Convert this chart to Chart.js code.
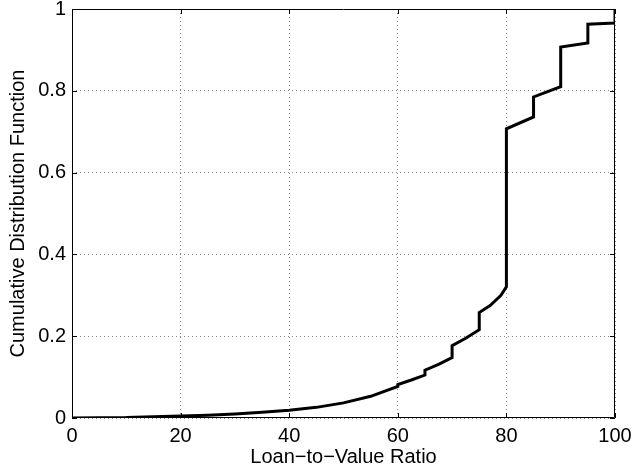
<!DOCTYPE html>
<html>
<head>
<meta charset="utf-8">
<script src="https://cdn.jsdelivr.net/npm/chart.js@4/dist/chart.umd.min.js"></script>
<style>
html,body{margin:0;padding:0;background:#fff;}
#wrap{width:633px;height:467px;position:relative;}
</style>
</head>
<body>
<div id="wrap"><canvas id="c" width="633" height="467"></canvas></div>
<script>
// Loan-to-Value ratio (x) and cumulative distribution (y); repeated x = step jump
const ltv = [0, 10, 20, 25, 30, 35, 40, 45, 50, 55, 60, 60, 62.5, 65, 65, 67.5, 70, 70, 72.5, 75, 75, 77, 79, 80, 80, 85, 85, 90, 90, 95, 95, 100, 100];
const cdf = [0, 0.001, 0.005, 0.007, 0.010, 0.014, 0.019, 0.026, 0.037, 0.053, 0.077, 0.082, 0.093, 0.105, 0.117, 0.131, 0.148, 0.177, 0.195, 0.216, 0.258, 0.275, 0.300, 0.321, 0.707, 0.736, 0.785, 0.810, 0.907, 0.917, 0.963, 0.966, 1.0];
const xTicks = [0, 20, 40, 60, 80, 100];
const yTicks = [0, 0.2, 0.4, 0.6, 0.8, 1];
const xTitle = 'Loan\u2212to\u2212Value Ratio';
const yTitle = 'Cumulative Distribution Function';

const points = ltv.map((x, i) => ({x: x, y: cdf[i]}));
const FONT = 'Liberation Sans, Arial, Helvetica, sans-serif';

const boxPlugin = {
  id: 'box',
  afterDraw(chart) {
    const {ctx, chartArea: a, scales} = chart;
    ctx.save();
    ctx.strokeStyle = '#000';
    ctx.lineWidth = 1;
    ctx.beginPath();
    ctx.rect(a.left + 0.5, a.top + 0.5, a.right - a.left - 1, a.bottom - a.top - 1);
    ctx.stroke();
    const L = 5;
    ctx.beginPath();
    xTicks.forEach(v => {
      const px = Math.round(scales.x.getPixelForValue(v)) + 0.5;
      ctx.moveTo(px, a.bottom); ctx.lineTo(px, a.bottom - L);
      ctx.moveTo(px, a.top); ctx.lineTo(px, a.top + L);
    });
    yTicks.forEach(v => {
      const py = Math.round(scales.y.getPixelForValue(v)) + 0.5;
      ctx.moveTo(a.left, py); ctx.lineTo(a.left + L, py);
      ctx.moveTo(a.right, py); ctx.lineTo(a.right - L, py);
    });
    ctx.stroke();
    ctx.restore();
  }
};

new Chart(document.getElementById('c'), {
  type: 'scatter',
  data: {
    datasets: [{
      data: points,
      showLine: true,
      borderColor: '#000',
      borderWidth: 3,
      pointRadius: 0,
      tension: 0,
      fill: false
    }]
  },
  options: {
    responsive: false,
    animation: false,
    events: [],
    layout: {padding: {top: 9, right: 18, left: 0, bottom: 0}},
    plugins: {legend: {display: false}, tooltip: {enabled: false}},
    scales: {
      x: {
        type: 'linear', min: 0, max: 100,
        afterFit: s => { s.height = 49; s.paddingLeft = 0; s.paddingRight = 0; },
        afterBuildTicks: s => { s.ticks = xTicks.map(v => ({value: v})); },
        grid: {color: '#888', lineWidth: 1, drawTicks: false, tickLength: 0},
        border: {display: false, dash: [1, 3]},
        ticks: {color: '#000', font: {family: FONT, size: 20, lineHeight: 1}, padding: 8, maxRotation: 0,
                callback: v => String(v)},
        title: {display: true, text: xTitle, color: '#000', font: {family: FONT, size: 20, lineHeight: 1}, padding: {top: 0, bottom: 0}}
      },
      y: {
        type: 'linear', min: 0, max: 1,
        afterFit: s => { s.width = 72; s.paddingTop = 0; s.paddingBottom = 0; },
        afterBuildTicks: s => { s.ticks = yTicks.map(v => ({value: v})); },
        grid: {color: '#888', lineWidth: 1, drawTicks: false, tickLength: 0},
        border: {display: false, dash: [1, 3]},
        ticks: {color: '#000', font: {family: FONT, size: 20, lineHeight: 1}, padding: 6,
                callback: v => String(Math.round(v * 10) / 10)},
        title: {display: true, text: yTitle, color: '#000', font: {family: FONT, size: 20, lineHeight: 1}, padding: {top: 8, bottom: 0}}
      }
    }
  },
  plugins: [boxPlugin]
});
</script>
</body>
</html>
